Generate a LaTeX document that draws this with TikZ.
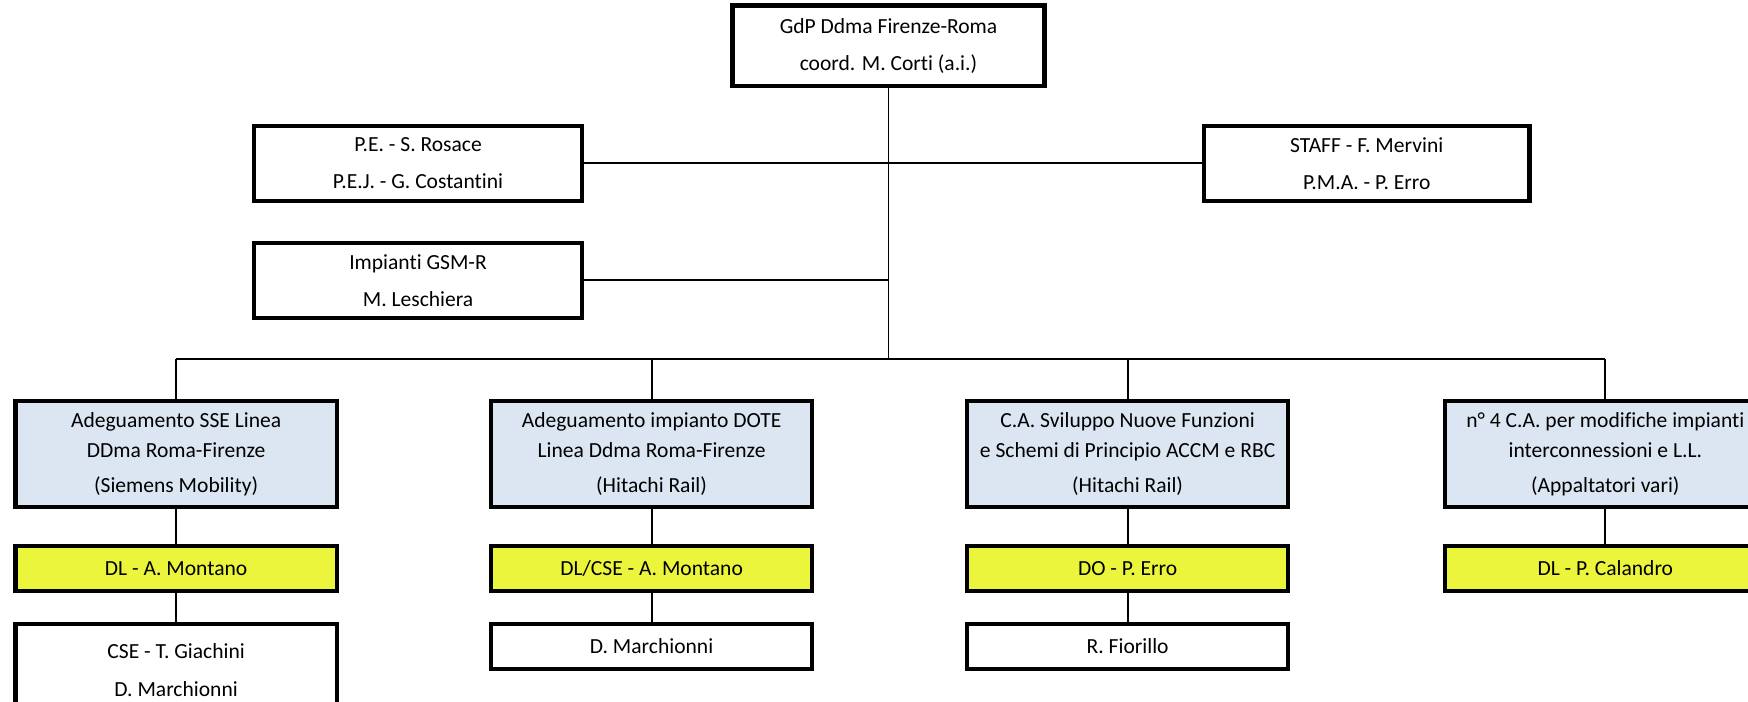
\documentclass[tikz,border=0pt]{standalone}
\usepackage{fontspec}
\setmainfont{Carlito}[Ligatures={NoCommon,NoRare,NoContextual}]
\usetikzlibrary{positioning}
\definecolor{boxblue}{HTML}{DCE6F2}
\definecolor{boxyellow}{HTML}{EBF53C}
\begin{document}
\begin{tikzpicture}[
    x=0.02cm, y=-0.02cm,
    every node/.style={font=\fontsize{11}{15}\selectfont},
    unit/.style={rectangle, draw, line width=2.2pt, align=center, inner sep=0pt, minimum width=288*0.02cm},
    head/.style={unit, fill=white},
    work/.style={unit, fill=boxblue, minimum height=95*0.02cm},
    lead/.style={unit, fill=boxyellow, minimum height=40*0.02cm},
    team/.style={unit, fill=white, minimum height=40*0.02cm},
    link/.style={-, line width=1pt}
]
    \useasboundingbox (0,0) rectangle (1568,629);

    % Top of the chart
    \node[head, minimum width=280*0.02cm, minimum height=72*0.02cm] (gdp) at (797,41)
        {GdP Ddma Firenze-Roma\\[4pt] coord. M. Corti (a.i.)};
    \node[head, minimum width=294*0.02cm, minimum height=67*0.02cm] (pe) at (375,146.5)
        {P.E. - S. Rosace\\[4pt] P.E.J. - G. Costantini};
    \node[head, minimum width=292*0.02cm, minimum height=67*0.02cm] (staff) at (1226,146.5)
        {STAFF - F. Mervini\\[4pt] P.M.A. - P. Erro};
    \node[head, minimum width=294*0.02cm, minimum height=67*0.02cm] (gsm) at (375,251.5)
        {Impianti GSM-R\\[4pt] M. Leschiera};
    \coordinate (hub) at (797,322);

    % Contracts (c1 to c4)
    \node[work] (c1) at (158,407.5) {Adeguamento SSE Linea\\ DDma Roma-Firenze\\[3pt] (Siemens Mobility)};
    \node[work] (c2) at (584.5,407.5) {Adeguamento impianto DOTE\\ Linea Ddma Roma-Firenze\\[3pt] (Hitachi Rail)};
    \node[work] (c3) at (1011.5,407.5) {C.A. Sviluppo Nuove Funzioni\\ e Schemi di Principio ACCM e RBC\\[3pt] (Hitachi Rail)};
    \node[work] (c4) at (1440,407.5) {n° 4 C.A. per modifiche impianti\\ interconnessioni e L.L.\\[3pt] (Appaltatori vari)};

    % Works direction (d1 to d4)
    \node[lead] (d1) at (158,510) {DL - A. Montano};
    \node[lead] (d2) at (584.5,510) {DL/CSE - A. Montano};
    \node[lead] (d3) at (1011.5,510) {DO - P. Erro};
    \node[lead] (d4) at (1440,510) {DL - P. Calandro};

    % Assistants (t1 to t3)
    \node[team, minimum height=82*0.02cm] (t1) at (158,601) {CSE - T. Giachini\\[4pt] D. Marchionni};
    \node[team] (t2) at (584.5,580) {D. Marchionni};
    \node[team] (t3) at (1011.5,580) {R. Fiorillo};

    % Staff links
    \draw[link] (gdp.south) -- (hub);
    \draw[link] (pe.east) -- (staff.west);
    \draw[link] (gsm.east) -- (gsm.east -| hub);

    % Bus to the contracts
    \draw[link] (c1.north |- hub) -- (c4.north |- hub);
    \foreach \i in {1,...,4} {
        \draw[link] (c\i.north |- hub) -- (c\i.north);
        \draw[link] (c\i.south) -- (d\i.north);
    }
    \foreach \i in {1,2,3} {
        \draw[link] (d\i.south) -- (t\i.north);
    }

\end{tikzpicture}
\end{document}
